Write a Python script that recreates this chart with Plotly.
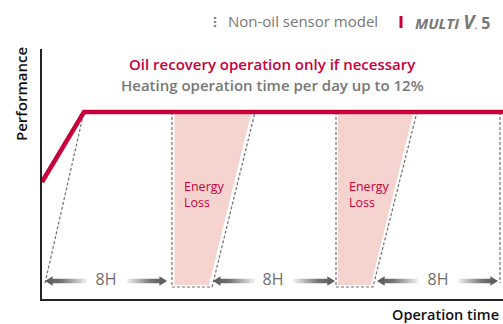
import plotly.graph_objects as go

# ---- data (time in hours, performance in %) ----
perf_t = [0, 2.75, 30.23]
perf_v = [46.8, 74.8, 74.8]

# non-oil sensor model: restart ramps and stop windows (dashed outlines)
ramp1_t = [0.2, 2.75]
ramp1_v = [6.4, 74.8]
box1_t = [8.52, 8.52, 11.15, 13.97]
box1_v = [74.8, 4.8, 4.8, 74.8]
box2_t = [19.28, 19.28, 21.7, 24.59]
box2_v = [74.8, 4.8, 4.8, 74.8]
edge_t = [30.03, 30.03]
edge_v = [74.8, 6.4]

# energy loss areas
loss1_t = [8.69, 13.7, 10.95, 8.69, 8.69]
loss1_v = [74.0, 74.0, 5.6, 5.6, 74.0]
loss2_t = [19.41, 24.33, 21.57, 19.41, 19.41]
loss2_v = [74.0, 74.0, 5.6, 5.6, 74.0]
loss_label_t = [9.18, 20.0]
loss_label_v = [41.8, 41.8]

# 8-hour intervals: (start, end, label position, left bar end, right bar start)
span_start = [0.2, 11.21, 21.97]
span_end = [8.2, 19.21, 29.9]
span_mid = [4.2, 15.15, 25.97]
span_gap_l = [2.95, 13.97, 24.66]
span_gap_r = [5.57, 16.46, 27.28]
span_label = ["8H", "8H", "8H"]
span_y = 7.2

RED = "#c8003c"
PINK = "#f5d4cf"
GREY = "#6e6e6e"
DASH = "#707070"
FONT = "Open Sans"

fig = go.Figure()

for lt, lv in [(loss1_t, loss1_v), (loss2_t, loss2_v)]:
    fig.add_trace(go.Scatter(x=lt, y=lv, mode="lines", fill="toself",
                             fillcolor=PINK, line=dict(width=0),
                             hoverinfo="skip", showlegend=False))

for dt, dv in [(ramp1_t, ramp1_v), (box1_t, box1_v), (box2_t, box2_v), (edge_t, edge_v)]:
    fig.add_trace(go.Scatter(x=dt, y=dv, mode="lines",
                             line=dict(color=DASH, width=1.2, dash="3px,2px"),
                             hoverinfo="skip", showlegend=False))

fig.add_trace(go.Scatter(x=perf_t, y=perf_v, mode="lines",
                         line=dict(color=RED, width=4.5),
                         hoverinfo="skip", showlegend=False))

# gradient arrows for the 8H spans
hl, hh, sh = 0.5, 1.9, 0.9


def arrow_half(tip, inner, y, pointing_left):
    s = 1 if pointing_left else -1
    base = tip + s * hl
    xs = [tip, base, base, inner, inner, base, base, tip]
    ys = [y, y + hh, y + sh, y + sh, y - sh, y - sh, y - hh, y]
    if pointing_left:
        scale = [[0, "#555555"], [0.4, "#747474"], [1, "#f2f2f2"]]
    else:
        scale = [[0, "#f2f2f2"], [0.6, "#747474"], [1, "#555555"]]
    return go.Scatter(x=xs, y=ys, mode="lines", fill="toself",
                      fillgradient=dict(type="horizontal", colorscale=scale),
                      line=dict(width=0), hoverinfo="skip", showlegend=False)


for a, b, gl, gr in zip(span_start, span_end, span_gap_l, span_gap_r):
    fig.add_trace(arrow_half(a, gl, span_y, True))
    fig.add_trace(arrow_half(b, gr, span_y, False))

fig.add_trace(go.Scatter(x=span_mid, y=[span_y] * 3, mode="text", text=span_label,
                         textfont=dict(family=FONT, size=16, color=GREY),
                         textposition="middle center", hoverinfo="skip", showlegend=False))

for xt, yt in zip(loss_label_t, loss_label_v):
    fig.add_annotation(x=xt, y=yt, xref="x", yref="y", text="Energy<br>Loss",
                       showarrow=False, xanchor="left", yanchor="middle", align="left",
                       font=dict(family=FONT, size=12.5, color=RED))

L, T, B = 42, 49, 25
PW, PH = 503 - L, 324 - T - B


def px(xp):
    return (xp - L) / PW


def py(yp):
    return (324 - B - yp) / PH


texts = [
    dict(x=px(272), y=py(64), text="Oil recovery operation only if necessary",
         font=dict(family=FONT, size=15, color=RED, weight=600), xanchor="center"),
    dict(x=px(272), y=py(85), text="Heating operation time per day up to 12%",
         font=dict(family=FONT, size=15, color="#777777", weight=600), xanchor="center"),
    dict(x=px(501), y=py(314), text="Operation time",
         font=dict(family=FONT, size=14.5, color="#111111", weight=600), xanchor="right"),
    dict(x=px(226), y=py(21), text="Non-oil sensor model",
         font=dict(family=FONT, size=15, color="#777777"), xanchor="left"),
    dict(x=px(413), y=py(22), text="<b><i><span style='font-size:15px'>MULTI</span> "
                                    "<span style='font-size:19px'>V</span></i></b>"
                                    "<b><span style='font-size:9px'>.</span> 5</b>",
         font=dict(family=FONT, size=16, color="#777777"), xanchor="left"),
]
for t in texts:
    fig.add_annotation(xref="paper", yref="paper", showarrow=False, yanchor="middle", **t)

fig.add_annotation(xref="paper", yref="paper", x=px(21), y=py(94), text="Performance",
                   textangle=-90, showarrow=False, xanchor="center", yanchor="middle",
                   font=dict(family=FONT, size=15, color="#111111", weight=600))

# legend markers
fig.add_shape(type="line", xref="paper", yref="paper", x0=px(215), x1=px(215),
              y0=py(17), y1=py(28), line=dict(color="#888888", width=2.5, dash="2px,2px"))
fig.add_shape(type="line", xref="paper", yref="paper", x0=px(401), x1=px(401),
              y0=py(16), y1=py(28), line=dict(color=RED, width=3))

fig.update_xaxes(range=[0, PW / 15.25], showline=True, linecolor="#222222", linewidth=1.5,
                 showgrid=False, zeroline=False, showticklabels=False, ticks="")
fig.update_yaxes(range=[0, 100], showline=True, linecolor="#222222", linewidth=1.5,
                 showgrid=False, zeroline=False, showticklabels=False, ticks="")
fig.update_layout(width=503, height=324, margin=dict(l=L, r=0, t=T, b=B),
                  plot_bgcolor="white", paper_bgcolor="white", showlegend=False)

fig.write_html("out.html")
